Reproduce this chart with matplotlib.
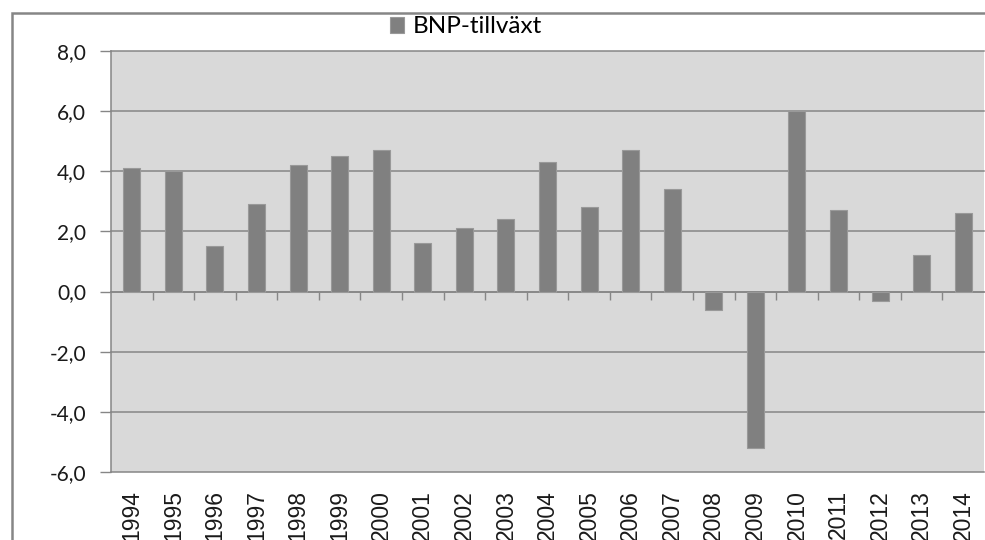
import numpy as np
import matplotlib
matplotlib.use("Agg")
import matplotlib.pyplot as plt
from matplotlib.ticker import FuncFormatter, FixedLocator
from matplotlib.patches import Rectangle

# data
years = ['1994', '1995', '1996', '1997', '1998', '1999', '2000', '2001', '2002', '2003', '2004',
         '2005', '2006', '2007', '2008', '2009', '2010', '2011', '2012', '2013', '2014']
growth = [4.1, 4.0, 1.5, 2.9, 4.2, 4.5, 4.7, 1.6, 2.1, 2.4, 4.3,
          2.8, 4.7, 3.4, -0.6, -5.2, 6.0, 2.7, -0.3, 1.2, 2.6]
series_name = 'BNP-tillväxt'
y_ticks = [-6, -4, -2, 0, 2, 4, 6, 8]

W, H = 985, 540
fig = plt.figure(figsize=(W / 100, H / 100), dpi=100)
grey = '#868686'

# outer chart border (cut off at right and bottom)
fig.patches.append(Rectangle((12 / W, -0.1), 1.2, 1 - 13 / H + 0.1, transform=fig.transFigure,
                             fill=False, edgecolor=grey, linewidth=1.8))

ax = fig.add_axes([111 / W, 1 - 472 / H, 873 / W, 421 / H])
ax.set_facecolor('#d9d9d9')

x = np.arange(len(years))
bars = ax.bar(x, growth, width=0.41, color='#808080', edgecolor='#999999', linewidth=0.8,
              label=series_name, zorder=3)

ax.set_xlim(-0.5, len(years) - 0.5)
ax.set_ylim(y_ticks[0], y_ticks[-1])

# horizontal gridlines
for v in y_ticks:
    ax.axhline(v, color=grey, linewidth=1.1, zorder=1, clip_on=False)

# y axis
ax.set_yticks(y_ticks)
ax.yaxis.set_major_formatter(FuncFormatter(lambda v, p: f'{v:.1f}'.replace('.', ',')))
ax.tick_params(axis='y', length=8, width=1, color=grey, pad=10, labelsize=15, labelcolor='#1a1a1a')
for lab in ax.get_yticklabels():
    lab.set_fontfamily(['Lato', 'DejaVu Sans'])

for s in ['top', 'right']:
    ax.spines[s].set_visible(False)
ax.spines['left'].set_color(grey)
ax.spines['left'].set_linewidth(1.1)

# category axis crossing at zero, tick marks between categories
ax.spines['bottom'].set_position(('data', 0))
ax.spines['bottom'].set_color(grey)
ax.spines['bottom'].set_linewidth(1.1)
ax.spines['bottom'].set_zorder(2)
ax.xaxis.set_major_locator(FixedLocator(x[:-1] + 0.5))
ax.tick_params(axis='x', length=6, width=1, color=grey, labelbottom=False)

# year labels at the bottom of the plot area
sec = ax.secondary_xaxis(location=0)
sec.set_xticks(x)
sec.set_xticklabels(years, rotation=90, fontsize=16.5, fontfamily='Liberation Sans', color='#1a1a1a')
sec.tick_params(length=0, pad=13)
sec.spines['bottom'].set_visible(False)

fig.legend(handles=[bars], labels=[series_name], loc='center', bbox_to_anchor=(466 / W, 1 - 27 / H),
           frameon=False, handlelength=0.6, handleheight=0.6, handletextpad=0.35,
           prop={'family': 'Lato', 'size': 17.5})

fig.savefig('out.png', dpi=100)
